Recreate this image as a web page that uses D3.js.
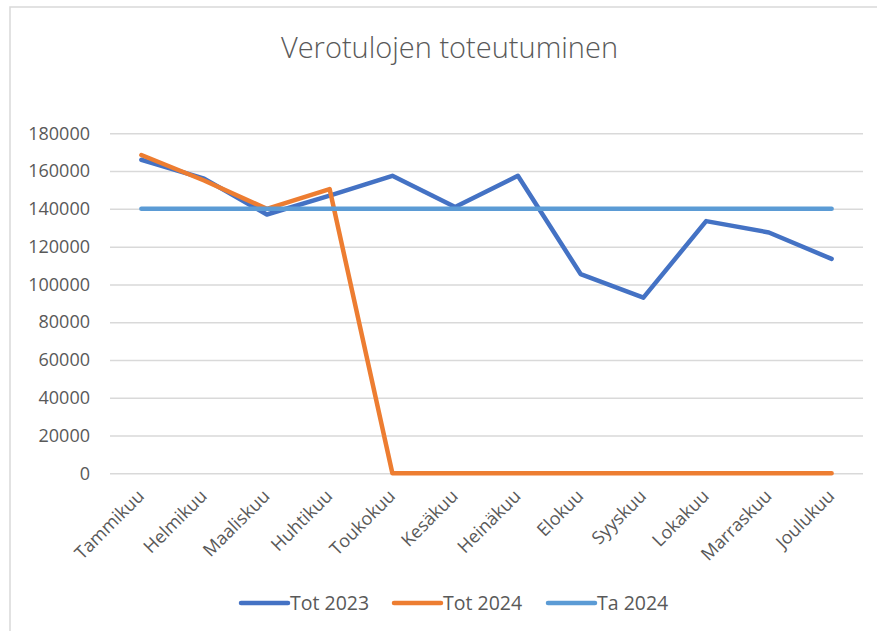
<!DOCTYPE html>
<html><head><meta charset="utf-8">
<script src="https://cdn.jsdelivr.net/npm/d3@7"></script>
<style>html,body{margin:0;padding:0;background:#fff;}svg{display:block;font-family:"Open Sans",sans-serif;}</style>
</head><body><svg id="c" width="877" height="631"></svg>
<script>
const months = ["Tammikuu","Helmikuu","Maaliskuu","Huhtikuu","Toukokuu","Kesäkuu","Heinäkuu","Elokuu","Syyskuu","Lokakuu","Marraskuu","Joulukuu"];
const tot2023 = [166000,156000,137000,147000,157500,141000,157500,105500,93000,133500,127500,113500];
const tot2024 = [168500,155000,140000,150500,0,0,0,0,0,0,0,0];
const ta2024 = [140000,140000,140000,140000,140000,140000,140000,140000,140000,140000,140000,140000];
const yTicks = [0,20000,40000,60000,80000,100000,120000,140000,160000,180000];
const seriesNames = ["Tot 2023","Tot 2024","Ta 2024"];
const colors = ["#4472C4","#ED7D31","#5B9BD5"];

const svg = d3.select("#c");
svg.append("rect").attr("width",877).attr("height",631).attr("fill","#fff");
svg.append("path").attr("d","M10,631V7H877").attr("fill","none").attr("stroke","#D9D9D9").attr("stroke-width",1.5);

const x = d3.scaleBand().domain(months).range([110,863]).padding(0);
const y = d3.scaleLinear().domain([0,180000]).range([473.3,133.3]);

svg.append("text").attr("x",449.5).attr("y",58).attr("text-anchor","middle")
  .attr("font-size",29).attr("font-weight",300).attr("fill","#595959").text("Verotulojen toteutuminen");

const yAxis = d3.axisLeft(y).tickValues(yTicks).tickSize(-(863-110)).tickPadding(20).tickFormat(d3.format("d"));
const gy = svg.append("g").attr("transform","translate(110,0)").call(yAxis);
gy.select(".domain").remove();
gy.selectAll(".tick line").attr("stroke","#D9D9D9").attr("stroke-width",1.5);
gy.selectAll(".tick text").attr("font-size",18).attr("fill","#595959").attr("font-family","Open Sans");

const xAxis = d3.axisBottom(x).tickSize(0).tickPadding(0);
const gx = svg.append("g").attr("transform","translate(0,473.3)").call(xAxis);
gx.select(".domain").remove();
gx.selectAll(".tick text").attr("font-size",18).attr("fill","#595959").attr("font-family","Open Sans")
  .attr("text-anchor","end").attr("dy",0).attr("y",0)
  .attr("transform","translate(4,24) rotate(-45)");

const line = d3.line().x((d,i)=>x(months[i])+x.bandwidth()/2).y(d=>y(d));
[tot2023,tot2024,ta2024].forEach((s,k)=>{
  svg.append("path").datum(s).attr("d",line).attr("fill","none").attr("stroke",colors[k])
    .attr("stroke-width",4.5).attr("stroke-linejoin","round").attr("stroke-linecap","round");
});

const legX = [240,393,547];
seriesNames.forEach((n,k)=>{
  const g = svg.append("g").attr("transform",`translate(${legX[k]},603)`);
  g.append("line").attr("x1",1).attr("x2",48).attr("stroke",colors[k]).attr("stroke-width",4.5).attr("stroke-linecap","round");
  g.append("text").attr("x",50).attr("y",0).attr("dy","0.35em").attr("font-size",19.5).attr("fill","#595959").text(n);
});
</script></body></html>
